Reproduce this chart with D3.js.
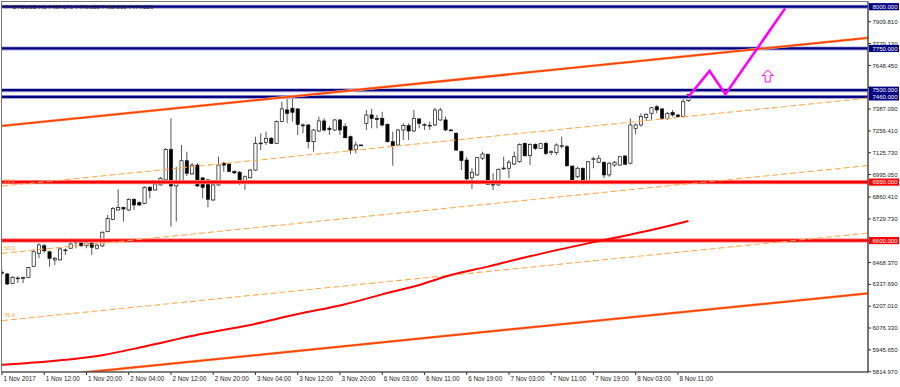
<!DOCTYPE html>
<html>
<head>
<meta charset="utf-8">
<title>BTCUSD,H1</title>
<script src="https://d3js.org/d3.v7.min.js"></script>
<style>
  body { margin: 0; background: #fff; }
  text { font-family: "Liberation Sans", Arial, sans-serif; }
</style>
</head>
<body>
<script>
// H1 bars, 1 Nov 2017 04:00 .. 8 Nov 2017 13:00
var opens = [
  6410, 6400, 6344, 6373, 6376, 6380, 6444, 6524, 6569, 6533,
  6484, 6484, 6541, 6554, 6591, 6593, 6569, 6587, 6554, 6568,
  6653, 6727, 6783, 6798, 6783, 6847, 6827, 6823, 6919, 6903,
  6933, 6963, 7146, 6927, 6957, 7078, 6999, 7052, 6975, 6963,
  6843, 6933, 7063, 7058, 7014, 7009, 6943, 6976, 7022, 7181,
  7188, 7212, 7182, 7312, 7382, 7392, 7388, 7292, 7292, 7192,
  7256, 7316, 7272, 7262, 7322, 7282, 7222, 7146, 7172, 7302,
  7352, 7330, 7332, 7296, 7192, 7172, 7262, 7288, 7256, 7328,
  7290, 7288, 7292, 7322, 7322, 7262, 7242, 7133, 7082, 6976,
  6993, 7093, 7116, 6952, 6933, 7031, 7033, 7058, 7072, 7182,
  7108, 7176, 7152, 7182, 7128, 7126, 7164, 7162, 7046, 6982,
  7033, 6943, 7086, 7069, 7069, 6993, 7052, 7052, 7106, 7063,
  7272, 7292, 7336, 7362, 7401, 7388, 7332, 7366, 7352, 7342,
  7437.57
];
var highs = [
  6422, 6406, 6388, 6385, 6385, 6442, 6548, 6584, 6579, 6538,
  6502, 6556, 6553, 6614, 6604, 6609, 6604, 6594, 6584, 6654,
  6753, 6801, 6907, 6803, 6853, 6852, 6834, 6924, 6927, 6945,
  6981, 7154, 7332, 7042, 7172, 7132, 7064, 7064, 6981, 6969,
  6939, 7102, 7072, 7064, 7020, 7017, 6990, 7028, 7222, 7242,
  7252, 7220, 7319, 7431, 7461, 7461, 7394, 7302, 7298, 7268,
  7342, 7332, 7286, 7328, 7328, 7302, 7229, 7192, 7175, 7382,
  7388, 7352, 7371, 7301, 7252, 7268, 7302, 7302, 7382, 7332,
  7302, 7312, 7395, 7395, 7342, 7268, 7250, 7139, 7100, 7033,
  7100, 7132, 7121, 7003, 7031, 7102, 7082, 7132, 7181, 7187,
  7182, 7182, 7184, 7192, 7139, 7182, 7222, 7172, 7049, 7042,
  7037, 7076, 7102, 7112, 7072, 7069, 7076, 7106, 7112, 7332,
  7302, 7362, 7362, 7401, 7412, 7394, 7371, 7382, 7355, 7461,
  7478.55
];
var lows = [
  6394, 6334, 6340, 6346, 6346, 6376, 6442, 6494, 6527, 6444,
  6454, 6481, 6514, 6550, 6554, 6562, 6554, 6514, 6548, 6562,
  6651, 6723, 6780, 6713, 6777, 6783, 6807, 6819, 6853, 6899,
  6930, 6957, 6683, 6713, 6954, 6987, 6993, 6921, 6853, 6799,
  6837, 6927, 7012, 7011, 6999, 6933, 6903, 6972, 7017, 7142,
  7172, 7178, 7178, 7307, 7302, 7312, 7232, 7242, 7152, 7132,
  7250, 7252, 7232, 7256, 7232, 7211, 7116, 7122, 7169, 7262,
  7272, 7272, 7282, 7187, 7048, 7166, 7202, 7202, 7250, 7272,
  7262, 7262, 7286, 7316, 7256, 7256, 7136, 7022, 6952, 6909,
  6987, 7082, 6933, 6903, 6927, 7022, 6973, 7052, 7067, 7102,
  7052, 7142, 7148, 7112, 7112, 7112, 7152, 7042, 6949, 6973,
  6937, 6939, 7033, 7063, 6973, 6982, 7042, 7049, 7052, 7057,
  7236, 7282, 7316, 7322, 7362, 7322, 7322, 7342, 7340, 7340,
  7430
];
var closes = [
  6406, 6340, 6380, 6376, 6378, 6438, 6533, 6574, 6539, 6494,
  6493, 6550, 6544, 6580, 6589, 6569, 6587, 6560, 6572, 6650,
  6733, 6793, 6798, 6789, 6847, 6813, 6813, 6919, 6899, 6939,
  6973, 7146, 6927, 6942, 7078, 7003, 7052, 6927, 6919, 6847,
  6933, 7052, 7052, 7014, 7005, 6943, 6982, 7022, 7182, 7184,
  7212, 7182, 7312, 7388, 7362, 7368, 7296, 7289, 7192, 7262,
  7316, 7262, 7264, 7322, 7262, 7216, 7142, 7172, 7172, 7352,
  7332, 7326, 7292, 7192, 7168, 7262, 7288, 7256, 7332, 7302,
  7294, 7290, 7382, 7382, 7262, 7260, 7142, 7079, 6969, 7009,
  7096, 7118, 6937, 6933, 7027, 7034, 7069, 7102, 7176, 7108,
  7176, 7152, 7180, 7122, 7132, 7172, 7168, 7048, 6952, 7033,
  6943, 7072, 7090, 7093, 6993, 7063, 7069, 7102, 7057, 7292,
  7292, 7342, 7356, 7395, 7382, 7332, 7362, 7352, 7342, 7431,
  7474.22
];

// moving average, sampled
var maBars   = [0, 10, 19, 27, 37, 47, 56, 65, 72, 79, 85, 92, 97, 113, 123, 130];
var maValues = [5856, 5880, 5914, 5966, 6036, 6095, 6160, 6219, 6278, 6334, 6394, 6444, 6484, 6597, 6663, 6717];

// time axis labels (bar index -> text)
var timeBars   = [0, 8, 16, 24, 32, 40, 48, 56, 64, 72, 80, 88, 96, 104, 112, 120, 128];
var timeLabels = ["1 Nov 2017", "1 Nov 12:00", "1 Nov 20:00", "2 Nov 04:00", "2 Nov 12:00",
  "2 Nov 20:00", "3 Nov 04:00", "3 Nov 12:00", "3 Nov 20:00", "6 Nov 03:00", "6 Nov 11:00",
  "6 Nov 19:00", "7 Nov 03:00", "7 Nov 11:00", "7 Nov 19:00", "8 Nov 03:00", "8 Nov 11:00"];

// price scale labels
var priceTicks = [7909.81, 7779.13, 7648.45, 7517.77, 7387.09, 7256.41, 7125.73, 6995.05,
  6860.41, 6729.73, 6599.05, 6468.37, 6337.69, 6207.01, 6076.33, 5945.65, 5814.97];

// horizontal levels
var blueLevels = [8000, 7750, 7500, 7460];
var redLevels  = [6950, 6600];

// fibo channel: 0 line and 100 line, given at bar 0 and bar 164
var channelBars  = [0, 164];
var channelTop   = [7286, 7814];
var channelBot   = [5761, 6284];
var fiboLevels   = [23.6, 50.0, 76.4];

// projection path
var pathBars   = [130, 134, 137, 148.3];
var pathPrices = [7461, 7615, 7476, 7990];
var arrowBar = 145, arrowPrice = 7621;

var title = "BTCUSD,H1  7437.570 7478.550 7460.000 7474.220";

var W = 900, H = 387;
var pLeft = 2, pRight = 868, pTop = 2, pBottom = 372;

var svg = d3.select('body').append('svg').attr('width', W).attr('height', H);
svg.append('rect').attr('width', W).attr('height', H).attr('fill', '#fff');

var x = d3.scaleLinear().domain([0, 164]).range([pLeft, pRight]);
var y = d3.scaleLinear().domain([5814.97, 8000]).range([371.7, 6.7]);

svg.append('clipPath').attr('id', 'plot')
  .append('rect').attr('x', pLeft).attr('y', pTop).attr('width', pRight - pLeft).attr('height', pBottom - pTop);

var plot = svg.append('g').attr('clip-path', 'url(#plot)');

// candles
var bars = d3.range(opens.length);
plot.selectAll('line.wick').data(bars).enter().append('line')
  .attr('x1', function(i) { return x(i); })
  .attr('x2', function(i) { return x(i); })
  .attr('y1', function(i) { return y(highs[i]); })
  .attr('y2', function(i) { return y(lows[i]); })
  .attr('stroke', '#2a2a2a').attr('stroke-width', 0.8);

plot.selectAll('rect.body').data(bars).enter().append('rect')
  .attr('x', function(i) { return x(i) - 1.6; })
  .attr('width', 3.2)
  .attr('y', function(i) { return y(Math.max(opens[i], closes[i])); })
  .attr('height', function(i) { return Math.max(0.8, Math.abs(y(opens[i]) - y(closes[i]))); })
  .attr('fill', function(i) { return closes[i] >= opens[i] ? '#fff' : '#000'; })
  .attr('stroke', '#111').attr('stroke-width', 0.7);

// horizontal levels
function hline(v, halo, col, w1, w2) {
  plot.append('line').attr('x1', pLeft).attr('x2', pRight).attr('y1', y(v)).attr('y2', y(v))
    .attr('stroke', halo).attr('stroke-width', w1);
  plot.append('line').attr('x1', pLeft).attr('x2', pRight).attr('y1', y(v)).attr('y2', y(v))
    .attr('stroke', col).attr('stroke-width', w2);
}
blueLevels.forEach(function(v) { hline(v, '#a8a8d4', '#000080', 4, 2.2); });
redLevels.forEach(function(v) { hline(v, '#ff9c9c', '#ff0000', 4.4, 2.6); });

// fibo channel
function channelAt(level, k) {
  return channelTop[k] + (channelBot[k] - channelTop[k]) * level / 100;
}
var seg = d3.line().x(function(d) { return x(d[0]); }).y(function(d) { return y(d[1]); });
fiboLevels.forEach(function(lv) {
  var pts = channelBars.map(function(b, k) { return [b, channelAt(lv, k)]; });
  plot.append('path').attr('d', seg(pts)).attr('fill', 'none')
    .attr('stroke', '#ffa850').attr('stroke-width', 1.1).attr('stroke-dasharray', '6,3');
  plot.append('text').attr('x', 4).attr('y', y(pts[0][1]) - 3.5)
    .attr('font-size', 5.6).attr('fill', '#ffa040').text(lv.toFixed(1));
});
[0, 100].forEach(function(lv) {
  var pts = channelBars.map(function(b, k) { return [b, channelAt(lv, k)]; });
  plot.append('path').attr('d', seg(pts)).attr('fill', 'none')
    .attr('stroke', '#ffb090').attr('stroke-width', 2.8);
  plot.append('path').attr('d', seg(pts)).attr('fill', 'none')
    .attr('stroke', '#ff4500').attr('stroke-width', 1.8);
});

// moving average
var ma = d3.line().curve(d3.curveMonotoneX)
  .x(function(i) { return x(maBars[i]); })
  .y(function(i) { return y(maValues[i]); });
plot.append('path').attr('d', ma(d3.range(maBars.length))).attr('fill', 'none')
  .attr('stroke', '#ff0000').attr('stroke-width', 2);

// projection
var proj = d3.line().x(function(i) { return x(pathBars[i]); }).y(function(i) { return y(pathPrices[i]); });
plot.append('path').attr('d', proj(d3.range(pathBars.length))).attr('fill', 'none')
  .attr('stroke', '#ff00ff').attr('stroke-width', 2.6).attr('stroke-linejoin', 'miter');

var ax = x(arrowBar), ay = y(arrowPrice);
plot.append('path')
  .attr('d', 'M' + ax + ',' + ay + 'l5.5,5.5h-3v6.5h-5v-6.5h-3z')
  .attr('fill', '#fff').attr('stroke', '#ff00ff').attr('stroke-width', 1);

// frame
svg.append('rect').attr('x', pLeft - 0.5).attr('y', pTop - 0.5)
  .attr('width', pRight - pLeft + 0.5).attr('height', pBottom - pTop + 0.5)
  .attr('fill', 'none').attr('stroke', '#777').attr('stroke-width', 1);
svg.append('line').attr('x1', pRight).attr('x2', pRight).attr('y1', pTop).attr('y2', pBottom + 0.5)
  .attr('stroke', '#333');
svg.append('line').attr('x1', pLeft).attr('x2', pRight).attr('y1', pBottom).attr('y2', pBottom)
  .attr('stroke', '#444');

// price scale (labels sitting fully under a level tag are not shown, as in MT4)
var tagLevels = blueLevels.concat(redLevels);
var shownTicks = priceTicks.filter(function(d) {
  return tagLevels.every(function(v) { return Math.abs(y(v) - y(d)) > 4.5; });
});
var ys = svg.append('g');
ys.selectAll('line').data(priceTicks).enter().append('line')
  .attr('x1', pRight).attr('x2', pRight + 3)
  .attr('y1', function(d) { return y(d); }).attr('y2', function(d) { return y(d); })
  .attr('stroke', '#333');
ys.selectAll('text').data(shownTicks).enter().append('text')
  .attr('x', pRight + 4.5).attr('y', function(d) { return y(d) + 2.1; })
  .attr('font-size', 6).attr('fill', '#222')
  .text(function(d) { return d.toFixed(3); });

function levelTag(v, col) {
  ys.append('rect').attr('x', pRight + 1).attr('y', y(v) - 3.6).attr('width', 30).attr('height', 7.2)
    .attr('fill', col);
  ys.append('text').attr('x', pRight + 4.5).attr('y', y(v) + 2.1)
    .attr('font-size', 6).attr('fill', '#fff').text(v.toFixed(3));
}
blueLevels.forEach(function(v) { levelTag(v, '#000080'); });
redLevels.forEach(function(v) { levelTag(v, '#ff0000'); });

// time scale
var xs = svg.append('g');
xs.selectAll('line').data(timeBars).enter().append('line')
  .attr('x1', function(d) { return x(d); }).attr('x2', function(d) { return x(d); })
  .attr('y1', pBottom).attr('y2', pBottom + 3)
  .attr('stroke', '#333');
xs.selectAll('text').data(timeBars).enter().append('text')
  .attr('x', function(d) { return x(d) + 1.5; }).attr('y', 380.5)
  .attr('font-size', 6.3).attr('fill', '#222')
  .text(function(d, i) { return timeLabels[i]; });

// title
svg.append('path').attr('d', 'M4.5,5.5h4l-2,3z').attr('fill', '#222');
svg.append('text').attr('x', 12.5).attr('y', 8.8).attr('font-size', 6).attr('fill', '#222').text(title);
</script>
</body>
</html>
